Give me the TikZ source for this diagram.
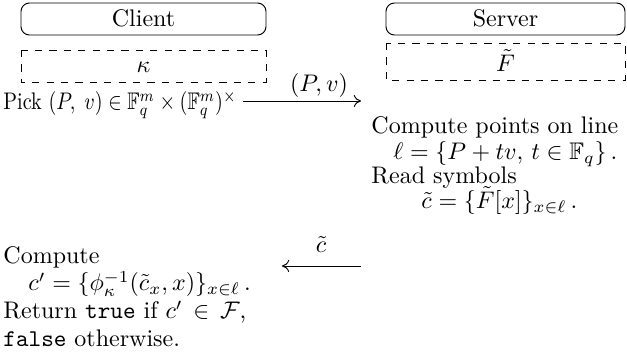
\documentclass[tikz,border=0pt]{standalone}
\usepackage{amsmath,amssymb,graphicx}
\usetikzlibrary{arrows.meta}
\begin{document}
\begin{tikzpicture}[x=0.4167pt,y=-0.4167pt,
  party/.style={draw,rounded corners=3.5pt,line width=0.4pt},
  keybox/.style={draw,dashed,line width=0.4pt},
  txt/.style={inner sep=0pt,anchor=base west},
  ctxt/.style={inner sep=0pt,anchor=base},
  msg/.style={-{To[length=3pt,width=5pt]},line width=0.4pt}]
\useasboundingbox (0,0) rectangle (627,358);
% parties
\draw[party] (21,3) rectangle (266,35);
\node[ctxt] (client) at (143.5,27) {Client};
\draw[party] (386,3) rectangle (625,35);
\node[ctxt] (server) at (505.5,27) {Server};
% keys
\draw[keybox] (21,50) rectangle (266,82);
\node[ctxt] (kappa) at (143.5,73) {$\kappa$};
\draw[keybox] (386,43) rectangle (625,80);
\node[ctxt] (Ft) at (505.5,72) {$\tilde F$};
% step 1
\node[txt] (pick) at (3,110) {\scalebox{0.84}[1]{Pick $(P,\;v)\in\mathbb{F}_q^m\times(\mathbb{F}_q^m)^{\times}$}};
\coordinate (a1e) at (361,101);
\draw[msg] (pick.east |- a1e) ++(6,0) coordinate (a1s) -- (a1e);
\node[ctxt] (m1) at (319,92) {$(P,v)$};
% server
\node[txt] (s1) at (371,134) {Compute points on line};
\node[txt] (s2) at (393,160) {$\ell=\{P+tv,\,t\in\mathbb{F}_q\}\,.$};
\node[txt] (s3) at (371,184) {Read symbols};
\node[txt] (s4) at (421,209) {$\tilde c=\{\tilde F[x]\}_{x\in\ell}\,.$};
% answer
\coordinate (a2s) at (361,266);
\coordinate (a2e) at (282,266);
\draw[msg] (a2s) -- (a2e);
\node[ctxt] (m2) at (321,253) {$\tilde c$};
% client decode
\node[txt] (c1) at (3,264) {Compute};
\node[txt] (c2) at (28,291) {$c'=\{\phi_\kappa^{-1}(\tilde c_x,x)\}_{x\in\ell}\,.$};
\node[txt] (c3) at (3,319) {Return \texttt{true} if $c'\,\in\,\mathcal{F}$,};
\node[txt] (c4) at (3,347) {\texttt{false} otherwise.};
\end{tikzpicture}
\end{document}
